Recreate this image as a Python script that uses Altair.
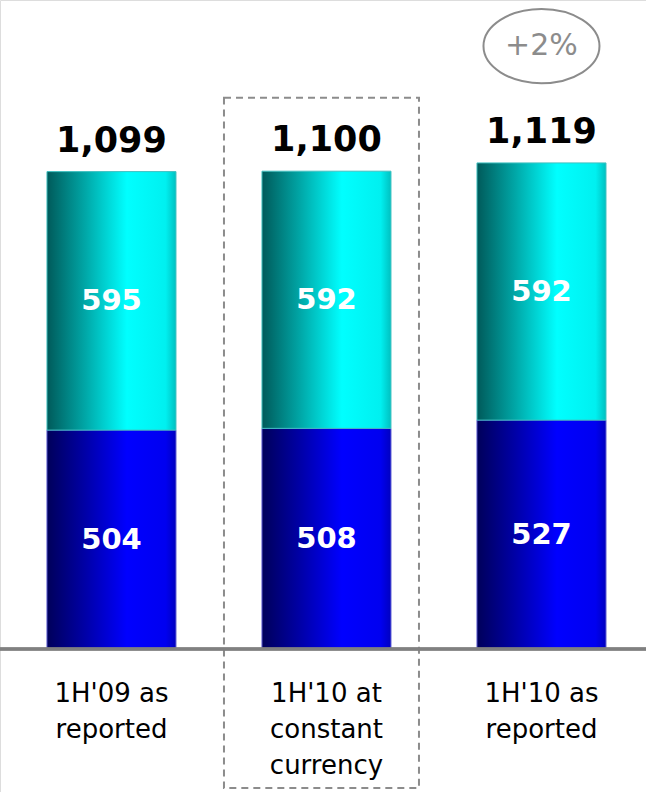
import altair as alt
import pandas as pd

categories = ["1H'09 as reported", "1H'10 at constant currency", "1H'10 as reported"]
cat_labels = ["1H'09 as\nreported", "1H'10 at\nconstant\ncurrency", "1H'10 as\nreported"]
bottom_vals = [504, 508, 527]
top_vals = [595, 592, 592]
totals = [1099, 1100, 1119]
growth_label = "+2%"

df = pd.DataFrame({
    "cat": categories,
    "label": cat_labels,
    "bottom": bottom_vals,
    "top": top_vals,
    "total": totals,
})

FONT = "DejaVu Sans"

yscale = alt.Scale(domain=[-329, 1494], nice=False, zero=False)

base = alt.Chart(df).transform_calculate(
    zero="0",
    bmid="datum.bottom / 2",
    tmid="datum.bottom + datum.top / 2",
    box_top="1269",
    box_bot="-320",
    ell_y="1388",
).encode(
    x=alt.X("cat:N", sort=categories, axis=None,
            scale=alt.Scale(paddingInner=0.4, paddingOuter=0.2023, align=0.54)),
)

blue_grad = {
    "gradient": "linear", "x1": 0, "x2": 1, "y1": 0, "y2": 0,
    "stops": [
        {"color": "#00005a", "offset": 0},
        {"color": "#0000a8", "offset": 0.3},
        {"color": "#0000ff", "offset": 0.62},
        {"color": "#0000f0", "offset": 0.92},
        {"color": "#0000c0", "offset": 1},
    ],
}
cyan_grad = {
    "gradient": "linear", "x1": 0, "x2": 1, "y1": 0, "y2": 0,
    "stops": [
        {"color": "#005a5a", "offset": 0},
        {"color": "#00a8a8", "offset": 0.3},
        {"color": "#00ffff", "offset": 0.62},
        {"color": "#00f0f0", "offset": 0.92},
        {"color": "#00c0c0", "offset": 1},
    ],
}

bars_bottom = base.mark_bar(color=blue_grad, stroke="#5a5ad0", strokeWidth=1).encode(
    y=alt.Y("bottom:Q", scale=yscale, axis=None),
    y2="zero:Q",
)

bars_top = base.mark_bar(color=cyan_grad, stroke="#40c0c0", strokeWidth=1).encode(
    y=alt.Y("total:Q", scale=yscale, axis=None),
    y2="bottom:Q",
)

lbl_bottom = base.mark_text(font=FONT, fontSize=29, fontWeight="bold", color="white",
                            baseline="middle").encode(
    y=alt.Y("bmid:Q", scale=yscale, axis=None),
    text=alt.Text("bottom:Q", format=","),
)

lbl_top = base.mark_text(font=FONT, fontSize=29, fontWeight="bold", color="white",
                         baseline="middle").encode(
    y=alt.Y("tmid:Q", scale=yscale, axis=None),
    text=alt.Text("top:Q", format=","),
)

lbl_total = base.mark_text(font=FONT, fontSize=35, fontWeight="bold", color="black",
                           baseline="alphabetic", dy=-20).encode(
    y=alt.Y("total:Q", scale=yscale, axis=None),
    text=alt.Text("total:Q", format=","),
)

cat_text = base.mark_text(font=FONT, fontSize=26, color="black", baseline="top",
                          lineBreak="\n", lineHeight=36, dy=32).encode(
    y=alt.Y("zero:Q", scale=yscale, axis=None),
    text="label:N",
)

dash_box = base.mark_bar(width=195, fill="transparent", stroke="#8c8c8c",
                         strokeDash=[7, 5], strokeWidth=2, xOffset=-5).encode(
    y=alt.Y("box_top:Q", scale=yscale, axis=None),
    y2="box_bot:Q",
).transform_filter(alt.datum.cat == categories[1])

baseline = base.mark_rule(color="#808080", strokeWidth=3).encode(
    x=alt.value(0),
    x2=alt.value(646),
    y=alt.Y("zero:Q", scale=yscale, axis=None),
)

ELLIPSE = ("M 1 0 C 1 0.3535 0.5523 0.64 0 0.64 C -0.5523 0.64 -1 0.3535 -1 0 "
           "C -1 -0.3535 -0.5523 -0.64 0 -0.64 C 0.5523 -0.64 1 -0.3535 1 0 Z")

ellipse = base.mark_point(
    shape=ELLIPSE, size=13456, filled=False, color="#8c8c8c", strokeWidth=2, opacity=1,
).encode(
    y=alt.Y("ell_y:Q", scale=yscale, axis=None),
).transform_filter(alt.datum.cat == categories[2])

growth_text = base.mark_text(font=FONT, fontSize=30, color="#8c8c8c",
                             baseline="middle", text=growth_label).encode(
    y=alt.Y("ell_y:Q", scale=yscale, axis=None),
).transform_filter(alt.datum.cat == categories[2])

chart = alt.layer(
    dash_box, bars_bottom, bars_top, baseline, lbl_bottom, lbl_top, lbl_total,
    cat_text, ellipse, growth_text,
).properties(
    width=646, height=792, padding=0, autosize=alt.AutoSizeParams(type="none"),
).configure_view(stroke=None).configure(background="white")

chart.save("out.html", embed_options={"renderer": "svg", "actions": False})
